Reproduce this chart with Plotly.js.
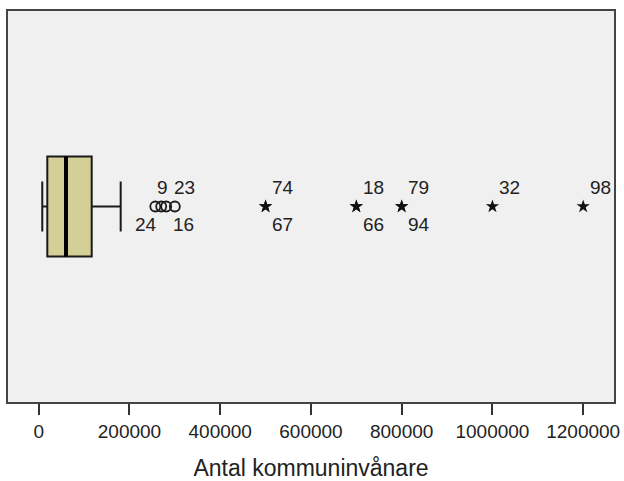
<!DOCTYPE html>
<html>
<head>
<meta charset="utf-8">
<script src="https://cdn.plot.ly/plotly-3.0.1.min.js"></script>
<style>html,body{margin:0;padding:0;background:#fff;}#chart{width:624px;height:481px;}</style>
</head>
<body>
<div id="chart"></div>
<script>
// ---- data ----
var boxLowerFence = 7900;
var boxQ1 = 18950;
var boxMedian = 60200;
var boxQ3 = 116800;
var boxUpperFence = 180700;

var circleValues = [257000, 270000, 281000, 300000];
var circleLabels = ['24', '9', '16', '23'];

var starValues = [500000, 500000, 700000, 700000, 800000, 800000, 1000000, 1200000];
var starLabels = ['74', '67', '18', '66', '79', '94', '32', '98'];

var tickValues = [0, 200000, 400000, 600000, 800000, 1000000, 1200000];
var tickLabels = ['0', '200000', '400000', '600000', '800000', '1000000', '1200000'];
var axisTitle = 'Antal kommuninvånare';

// ---- label layout (pixels) ----
var circleLabelSide = ['below', 'above', 'below', 'above'];
var circleLabelShift = [-9, 1, 17, 10];
var starLabelSide = ['above', 'below', 'above', 'below', 'above', 'below', 'above', 'above'];
var starLabelShift = 17;

var font = 'Liberation Sans, Arial, sans-serif';
var txtColor = '#222';

var traces = [
  {
    type: 'box', orientation: 'h', y: [0],
    q1: [boxQ1], median: [boxMedian], q3: [boxQ3],
    lowerfence: [boxLowerFence], upperfence: [boxUpperFence],
    width: 1, whiskerwidth: 0.5, boxpoints: false,
    fillcolor: '#d3cf97', line: {color: '#1a1a1a', width: 2},
    hoverinfo: 'skip', showlegend: false
  },
  {
    type: 'scatter', mode: 'lines',
    x: [boxMedian, boxMedian], y: [-0.5, 0.5],
    line: {color: '#000', width: 4}, hoverinfo: 'skip', showlegend: false
  },
  {
    type: 'scatter', mode: 'markers',
    x: circleValues, y: circleValues.map(function(){return 0;}),
    marker: {symbol: 'circle-open', size: 10, color: '#1a1a1a', line: {width: 1.8, color: '#1a1a1a'}},
    hoverinfo: 'skip', showlegend: false
  },
  {
    type: 'scatter', mode: 'markers',
    x: starValues, y: starValues.map(function(){return 0;}),
    marker: {symbol: 'star', size: 10, color: '#111', line: {width: 0}},
    hoverinfo: 'skip', showlegend: false
  }
];

var annotations = [];
function addLabel(x, text, side, shift) {
  annotations.push({
    x: x, y: 0, xref: 'x', yref: 'y', text: text, showarrow: false,
    xanchor: 'center', yanchor: 'middle',
    xshift: shift, yshift: side === 'above' ? 19 : -18,
    font: {family: font, size: 19, color: txtColor}
  });
}
circleValues.forEach(function(v, i){ addLabel(v, circleLabels[i], circleLabelSide[i], circleLabelShift[i]); });
starValues.forEach(function(v, i){ addLabel(v, starLabels[i], starLabelSide[i], starLabelShift); });

var layout = {
  width: 624, height: 481,
  margin: {l: 8, r: 10, t: 11, b: 79},
  paper_bgcolor: '#ffffff',
  plot_bgcolor: '#f0f0f0',
  showlegend: false,
  font: {family: font, color: txtColor},
  xaxis: {
    range: [-67660, 1267900],
    tickvals: tickValues, ticktext: tickLabels,
    ticks: 'outside', ticklen: 11, tickwidth: 2, tickcolor: '#333',
    tickfont: {family: font, size: 19, color: txtColor},
    showgrid: false, zeroline: false,
    showline: true, mirror: true, linecolor: '#444', linewidth: 2,
    title: {text: axisTitle, font: {family: font, size: 23, color: txtColor}, standoff: 19}
  },
  yaxis: {
    range: [-1.955, 1.955],
    showticklabels: false, ticks: '', showgrid: false, zeroline: false,
    showline: true, mirror: true, linecolor: '#444', linewidth: 2
  },
  annotations: annotations
};

Plotly.newPlot('chart', traces, layout, {staticPlot: true, displayModeBar: false});
</script>
</body>
</html>
